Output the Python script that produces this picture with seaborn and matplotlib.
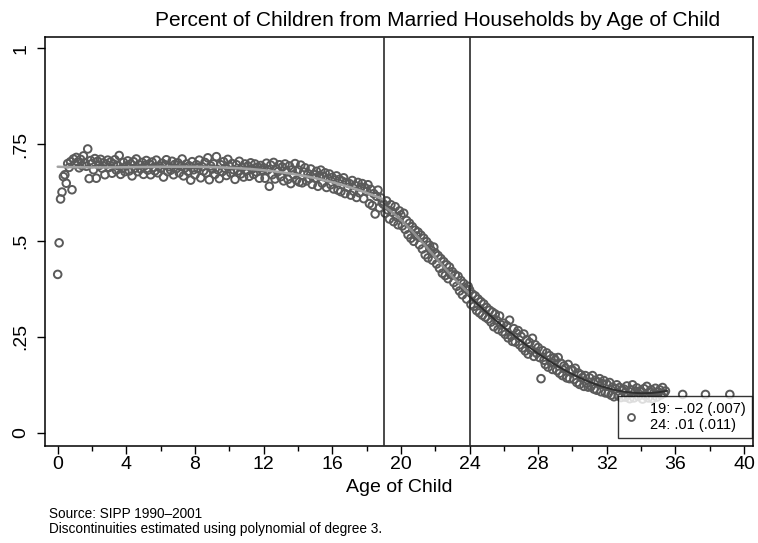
import numpy as np
import pandas as pd
import matplotlib
matplotlib.use("Agg")
import matplotlib.pyplot as plt
from matplotlib.ticker import MultipleLocator
from matplotlib.lines import Line2D
import seaborn as sns

# Share of children living in married households, by age of child in months
married_share = [
    # age 0
    0.412, 0.494, 0.608, 0.626, 0.666, 0.671, 0.649, 0.700, 0.690, 0.705, 0.632, 0.712,
    # age 1
    0.698, 0.716, 0.704, 0.689, 0.711, 0.695, 0.720, 0.702, 0.693, 0.738, 0.661, 0.708,
    # age 2
    0.700, 0.684, 0.713, 0.662, 0.706, 0.695, 0.711, 0.688, 0.702, 0.671, 0.698, 0.709,
    # age 3
    0.690, 0.704, 0.675, 0.699, 0.710, 0.683, 0.695, 0.721, 0.672, 0.688, 0.703, 0.679,
    # age 4
    0.694, 0.707, 0.681, 0.699, 0.668, 0.705, 0.688, 0.712, 0.679, 0.697, 0.686, 0.703,
    # age 5
    0.672, 0.695, 0.708, 0.683, 0.699, 0.671, 0.704, 0.690, 0.681, 0.709, 0.676, 0.694,
    # age 6
    0.688, 0.701, 0.665, 0.697, 0.710, 0.679, 0.692, 0.683, 0.706, 0.671, 0.698, 0.687,
    # age 7
    0.702, 0.676, 0.693, 0.712, 0.668, 0.689, 0.699, 0.680, 0.694, 0.657, 0.705, 0.684,
    # age 8
    0.671, 0.697, 0.688, 0.709, 0.663, 0.692, 0.681, 0.703, 0.676, 0.715, 0.658, 0.694,
    # age 9
    0.686, 0.699, 0.672, 0.718, 0.684, 0.661, 0.697, 0.679, 0.705, 0.688, 0.669, 0.711,
    # age 10
    0.693, 0.676, 0.700, 0.684, 0.659, 0.697, 0.681, 0.706, 0.673, 0.690, 0.665, 0.699,
    # age 11
    0.681, 0.694, 0.667, 0.702, 0.686, 0.672, 0.699, 0.678, 0.691, 0.662, 0.695, 0.683,
    # age 12
    0.689, 0.662, 0.701, 0.684, 0.641, 0.696, 0.671, 0.703, 0.660, 0.686, 0.679, 0.697,
    # age 13
    0.666, 0.691, 0.655, 0.699, 0.680, 0.659, 0.694, 0.648, 0.684, 0.671, 0.700, 0.657,
    # age 14
    0.684, 0.652, 0.696, 0.650, 0.678, 0.689, 0.655, 0.674, 0.661, 0.686, 0.646, 0.672,
    # age 15
    0.662, 0.680, 0.641, 0.669, 0.683, 0.649, 0.666, 0.676, 0.638, 0.661, 0.673, 0.645,
    # age 16
    0.664, 0.634, 0.657, 0.668, 0.631, 0.659, 0.627, 0.654, 0.663, 0.622, 0.651, 0.638,
    # age 17
    0.648, 0.618, 0.656, 0.628, 0.643, 0.612, 0.651, 0.624, 0.639, 0.648, 0.609, 0.637,
    # age 18
    0.628, 0.645, 0.596, 0.633, 0.591, 0.622, 0.569, 0.615, 0.631, 0.585, 0.611, 0.598,
    # age 19
    0.594, 0.571, 0.603, 0.579, 0.556, 0.593, 0.574, 0.549, 0.588, 0.562, 0.541, 0.577,
    # age 20
    0.566, 0.538, 0.571, 0.529, 0.552, 0.515, 0.545, 0.506, 0.536, 0.498, 0.527, 0.512,
    # age 21
    0.522, 0.489, 0.514, 0.478, 0.506, 0.463, 0.497, 0.455, 0.488, 0.476, 0.449, 0.483,
    # age 22
    0.468, 0.439, 0.461, 0.428, 0.453, 0.415, 0.445, 0.409, 0.437, 0.401, 0.431, 0.412,
    # age 23
    0.419, 0.391, 0.411, 0.381, 0.407, 0.369, 0.396, 0.359, 0.388, 0.375, 0.348, 0.381,
    # age 24
    0.372, 0.334, 0.361, 0.329, 0.356, 0.318, 0.348, 0.312, 0.341, 0.306, 0.335, 0.301,
    # age 25
    0.326, 0.296, 0.319, 0.288, 0.314, 0.276, 0.309, 0.293, 0.269, 0.304, 0.281, 0.263,
    # age 26
    0.285, 0.256, 0.279, 0.247, 0.293, 0.252, 0.238, 0.271, 0.236, 0.259, 0.266, 0.229,
    # age 27
    0.251, 0.221, 0.257, 0.213, 0.242, 0.205, 0.235, 0.216, 0.246, 0.199, 0.229, 0.207,
    # age 28
    0.222, 0.196, 0.141, 0.214, 0.189, 0.178, 0.208, 0.171, 0.201, 0.183, 0.165, 0.195,
    # age 29
    0.189, 0.162, 0.196, 0.155, 0.181, 0.149, 0.174, 0.168, 0.143, 0.178, 0.141, 0.164,
    # age 30
    0.163, 0.139, 0.168, 0.131, 0.156, 0.126, 0.151, 0.144, 0.121, 0.149, 0.129, 0.119,
    # age 31
    0.143, 0.121, 0.149, 0.114, 0.137, 0.111, 0.132, 0.141, 0.107, 0.128, 0.136, 0.104,
    # age 32
    0.127, 0.103, 0.131, 0.098, 0.119, 0.094, 0.115, 0.125, 0.097, 0.118, 0.092, 0.111,
    # age 33
    0.114, 0.093, 0.122, 0.099, 0.089, 0.112, 0.125, 0.091, 0.108, 0.117, 0.095, 0.109,
    # age 34
    0.107, 0.088, 0.115, 0.096, 0.121, 0.091, 0.106, 0.112, 0.089, 0.104, 0.116, 0.093,
    # age 35 (first half)
    0.106, 0.112, 0.099, 0.118, 0.103, 0.109,
]

# Sparse observations at the oldest ages
tail_age = [36.42, 37.75, 39.17]
tail_share = [0.100, 0.100, 0.100]

cutoffs = [19, 24]
legend_lines = ["19: \u2212.02 (.007)", "24: .01 (.011)"]

title = "Percent of Children from Married Households by Age of Child"
xlabel = "Age of Child"
notes = ["Source: SIPP 1990\u20132001",
         "Discontinuities estimated using polynomial of degree 3."]
ytick_vals = [0, 0.25, 0.5, 0.75, 1]
ytick_text = ["0", ".25", ".5", ".75", "1"]
xtick_vals = list(range(0, 41, 4))

months = np.arange(len(married_share))
df = pd.DataFrame({
    "age": np.concatenate([months / 12.0, tail_age]),
    "share": np.concatenate([married_share, tail_share]),
})

sns.set_theme(style="white")
plt.rcParams["font.family"] = ["Liberation Sans", "DejaVu Sans"]
plt.rcParams.update({"text.color": "black", "axes.labelcolor": "black",
                     "xtick.color": "black", "ytick.color": "black"})

fig = plt.figure(figsize=(7.58, 5.43), dpi=100)
ax = fig.add_axes([45 / 758, 1 - 446 / 543, 708 / 758, 409 / 543])

marker_col = "#5a5a5a"
sns.scatterplot(data=df, x="age", y="share", ax=ax, marker="o",
                facecolor="none", edgecolor=marker_col, linewidth=1.4,
                s=30, zorder=2, legend=False)

# Cubic fits on either side of each cutoff; each curve spans its own window
segments = [
    (0.0, 19.0, df[(df.age >= 0.25) & (df.age < 19)], "#a3a3a3", 1.8),
    (19.0, 24.0, df[(df.age >= 19) & (df.age < 24)], "#8f8f8f", 1.8),
    (24.0, 35.5, df[(df.age >= 24) & (df.age <= 35.5)], "#2f2f2f", 1.4),
]
for lo, hi, seg, col, lw in segments:
    ax.set_xlim(lo, hi)
    sns.regplot(data=seg, x="age", y="share", order=3, ci=None,
                scatter=False, ax=ax, truncate=False,
                line_kws={"color": col, "lw": lw, "zorder": 3})

for c in cutoffs:
    ax.axvline(c, color="#2a2a2a", lw=1.2, zorder=4)

ax.set_xlim(-0.74, 40.52)
ax.set_ylim(-0.034, 1.029)
ax.set_xticks(xtick_vals)
ax.set_xticklabels([str(v) for v in xtick_vals], fontsize=14)
ax.xaxis.set_minor_locator(MultipleLocator(2))
ax.set_yticks(ytick_vals)
ax.set_yticklabels(ytick_text, rotation=90, va="center", fontsize=14)
ax.tick_params(axis="x", which="major", direction="out", length=5.8,
               width=1, color="black", bottom=True, pad=1.5)
ax.tick_params(axis="y", which="major", direction="out", length=5.8,
               width=1, color="black", left=True, pad=5.5)
ax.tick_params(axis="x", which="minor", direction="out", length=3.6,
               width=1, color="black", bottom=True)
for sp in ax.spines.values():
    sp.set_color("black")
    sp.set_linewidth(1.1)

ax.set_xlabel(xlabel, fontsize=14, labelpad=4)
ax.set_ylabel("")
fig.text(438 / 758, 1 - 20 / 543, title, fontsize=15, ha="center", va="center")

handle = Line2D([], [], marker="o", linestyle="none", markerfacecolor="none",
                markeredgecolor=marker_col, markeredgewidth=1.3, markersize=5)
leg = ax.legend([handle], ["\n".join(legend_lines)], loc="lower right",
                bbox_to_anchor=(0.9986, 0.0196), borderaxespad=0,
                fontsize=10.5, frameon=True, fancybox=False,
                handlelength=1.0, handletextpad=0.8, borderpad=0.4)
leg.get_frame().set_edgecolor("black")
leg.get_frame().set_linewidth(1.0)
leg.set_zorder(5)

fig.text(49 / 758, 1 - 514 / 543, notes[0], fontsize=9.8, va="center")
fig.text(49 / 758, 1 - 529 / 543, notes[1], fontsize=9.8, va="center")

fig.savefig("out.png", dpi=100)
